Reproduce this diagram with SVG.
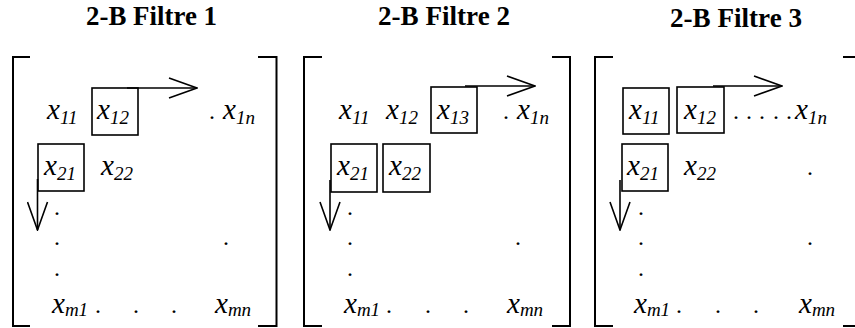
<svg xmlns="http://www.w3.org/2000/svg" width="855" height="328" viewBox="0 0 855 328">
<defs>
<style>
text{font-family:"Liberation Serif","Times New Roman",Times,serif;fill:#000}
.title{font-weight:bold;font-size:27px}
.v{font-style:italic;font-size:29px}
.s{font-size:19px}
.d{font-size:24px}
.br{fill:none;stroke:#000;stroke-width:2}
.box{fill:none;stroke:#000;stroke-width:1.6}
.arr{fill:none;stroke:#000;stroke-width:1.6}
</style>
<marker id="open" viewBox="0 0 30 22" refX="29" refY="11" markerWidth="30" markerHeight="22" markerUnits="userSpaceOnUse" orient="auto">
<path d="M1,1 L29,11 L1,21" fill="none" stroke="#000" stroke-width="1.6"/>
</marker>
</defs>
<rect width="855" height="328" fill="#fff"/>

<g id="filtre1">
<text class="title" x="86" y="25" textLength="131" lengthAdjust="spacingAndGlyphs">2-B Filtre 1</text>
<path class="br" d="M30,57 H13 V326 H30"/>
<path class="br" d="M258,57 H276.5 V326 H258"/>
<rect class="box" x="92" y="88" width="46" height="47"/>
<rect class="box" x="38" y="144" width="46" height="47"/>
<text class="v" x="47" y="119">x<tspan class="s" dy="5">11</tspan></text>
<text class="v" x="97" y="119">x<tspan class="s" dy="5">12</tspan></text>
<text class="d" x="209" y="119">.</text>
<text class="v" x="223" y="119">x<tspan class="s" dy="5">1n</tspan></text>
<text class="v" x="44" y="175">x<tspan class="s" dy="5">21</tspan></text>
<text class="v" x="101" y="175">x<tspan class="s" dy="5">22</tspan></text>
<text class="d" x="54" y="215">.</text>
<text class="d" x="54" y="245">.</text>
<text class="d" x="54" y="276">.</text>
<text class="d" x="223" y="245">.</text>
<text class="v" x="52" y="313">x<tspan class="s" dy="3">m1</tspan></text>
<text class="d" x="95" y="313">.</text>
<text class="d" x="133" y="313">.</text>
<text class="d" x="171" y="313">.</text>
<text class="v" x="215" y="313">x<tspan class="s" dy="3">mn</tspan></text>
</g>

<g id="filtre2">
<text class="title" x="378" y="25" textLength="132" lengthAdjust="spacingAndGlyphs">2-B Filtre 2</text>
<path class="br" d="M322,57 H304 V326 H322"/>
<path class="br" d="M552,57 H570 V326 H552"/>
<rect class="box" x="431" y="87" width="46" height="46"/>
<rect class="box" x="331" y="144" width="46" height="48"/>
<rect class="box" x="383" y="144" width="47" height="48"/>
<text class="v" x="339" y="119">x<tspan class="s" dy="5">11</tspan></text>
<text class="v" x="386" y="119">x<tspan class="s" dy="5">12</tspan></text>
<text class="v" x="437" y="119">x<tspan class="s" dy="5">13</tspan></text>
<text class="d" x="503" y="119">.</text>
<text class="v" x="517" y="119">x<tspan class="s" dy="5">1n</tspan></text>
<text class="v" x="337" y="175">x<tspan class="s" dy="5">21</tspan></text>
<text class="v" x="389" y="175">x<tspan class="s" dy="5">22</tspan></text>
<text class="d" x="347" y="215">.</text>
<text class="d" x="347" y="245">.</text>
<text class="d" x="347" y="276">.</text>
<text class="d" x="515" y="245">.</text>
<text class="v" x="344" y="313">x<tspan class="s" dy="3">m1</tspan></text>
<text class="d" x="386" y="313">.</text>
<text class="d" x="425" y="313">.</text>
<text class="d" x="463" y="313">.</text>
<text class="v" x="507" y="313">x<tspan class="s" dy="3">mn</tspan></text>
</g>

<g id="filtre3">
<text class="title" x="670" y="27" textLength="132" lengthAdjust="spacingAndGlyphs">2-B Filtre 3</text>
<path class="br" d="M613,57 H595 V326 H613"/>
<path class="br" d="M843,57 H860 V326 H843"/>
<rect class="box" x="623" y="88" width="46" height="46"/>
<rect class="box" x="677" y="87" width="47" height="46"/>
<rect class="box" x="622" y="144" width="46" height="47"/>
<text class="v" x="629" y="119">x<tspan class="s" dy="5">11</tspan></text>
<text class="v" x="684" y="119">x<tspan class="s" dy="5">12</tspan></text>
<text class="d" x="733" y="119">.</text>
<text class="d" x="746" y="119">.</text>
<text class="d" x="759" y="119">.</text>
<text class="d" x="773" y="119">.</text>
<text class="d" x="786" y="119">.</text>
<text class="v" x="795" y="119">x<tspan class="s" dy="5">1n</tspan></text>
<text class="v" x="627" y="175">x<tspan class="s" dy="5">21</tspan></text>
<text class="v" x="684" y="175">x<tspan class="s" dy="5">22</tspan></text>
<text class="d" x="807" y="175">.</text>
<text class="d" x="638" y="215">.</text>
<text class="d" x="638" y="245">.</text>
<text class="d" x="638" y="276">.</text>
<text class="d" x="807" y="245">.</text>
<text class="v" x="634" y="313">x<tspan class="s" dy="3">m1</tspan></text>
<text class="d" x="676" y="313">.</text>
<text class="d" x="715" y="313">.</text>
<text class="d" x="753" y="313">.</text>
<text class="v" x="799" y="313">x<tspan class="s" dy="3">mn</tspan></text>
</g>

<g id="connectors">
<line class="arr" x1="127" y1="88" x2="197" y2="88" marker-end="url(#open)"/>
<line class="arr" x1="37.5" y1="179" x2="37.5" y2="230" marker-end="url(#open)"/>
<line class="arr" x1="465" y1="86" x2="535" y2="86" marker-end="url(#open)"/>
<line class="arr" x1="330" y1="180" x2="330" y2="230" marker-end="url(#open)"/>
<line class="arr" x1="713" y1="86" x2="782" y2="86" marker-end="url(#open)"/>
<line class="arr" x1="620" y1="180" x2="620" y2="230" marker-end="url(#open)"/>
</g>
</svg>
